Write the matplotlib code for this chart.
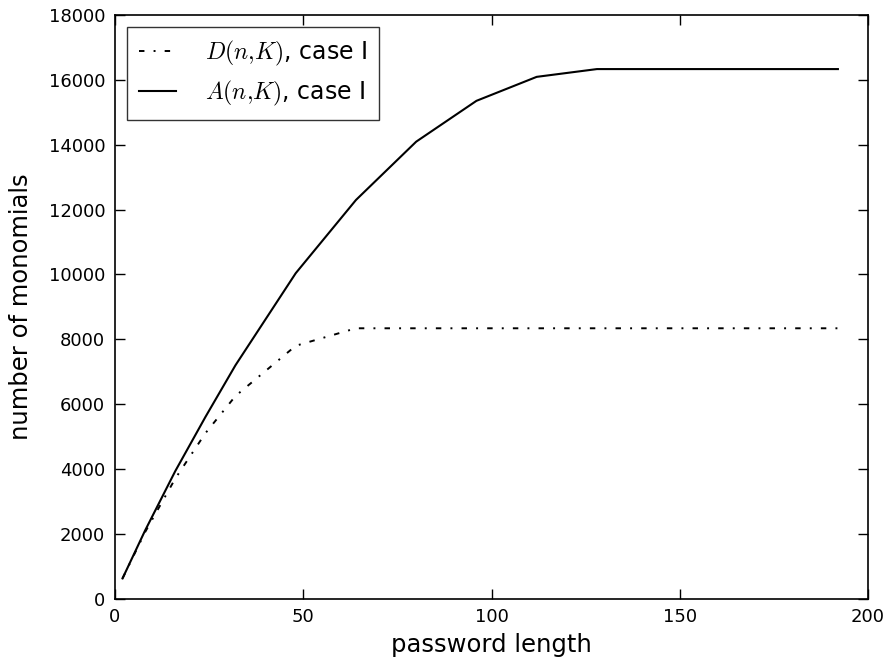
import matplotlib
matplotlib.use("Agg")
import matplotlib.pyplot as plt

x_vals = [2, 8, 16, 24, 32, 48, 64, 80, 96, 112, 128, 144, 160, 176, 192]
d_vals = [620, 2050, 3700, 5100, 6250, 7800, 8340, 8340, 8340, 8340, 8340, 8340, 8340, 8340, 8340]
a_vals = [620, 2100, 3930, 5600, 7200, 10040, 12300, 14100, 15360, 16100, 16340, 16340, 16340, 16340, 16340]
x_ticks = [0, 50, 100, 150, 200]
y_ticks = list(range(0, 18001, 2000))

plt.rcParams['mathtext.fontset'] = 'cm'
fig = plt.figure(figsize=(8.88, 6.65), dpi=100)
ax = fig.add_axes([0.1295, 0.1, 0.848, 0.877])

ax.plot(x_vals, d_vals, color='black', lw=1.4, ls=(0, (2.8, 4.7, 1.0, 4.7)),
        label=r'$D(n{,}K)$, case I')
ax.plot(x_vals, a_vals, color='black', lw=1.5, ls='-', label=r'$A(n{,}K)$, case I')

ax.set_xlim(0, 200)
ax.set_ylim(0, 18000)
ax.set_xticks(x_ticks)
ax.set_yticks(y_ticks)
ax.tick_params(direction='in', top=True, right=True, length=7, width=1, labelsize=13, pad=7)
for s in ax.spines.values():
    s.set_linewidth(1.2)
ax.set_xlabel('password length', fontsize=17.5, labelpad=5)
ax.set_ylabel('number of monomials', fontsize=17.5, labelpad=11)

leg = ax.legend(loc='upper left', fontsize=17, frameon=True, fancybox=False,
                edgecolor='black', handlelength=1.6, borderpad=0.5, labelspacing=0.45,
                handletextpad=1.2, borderaxespad=0.5)
leg.get_frame().set_linewidth(1.0)

fig.savefig('out.png', dpi=100, facecolor='white')
